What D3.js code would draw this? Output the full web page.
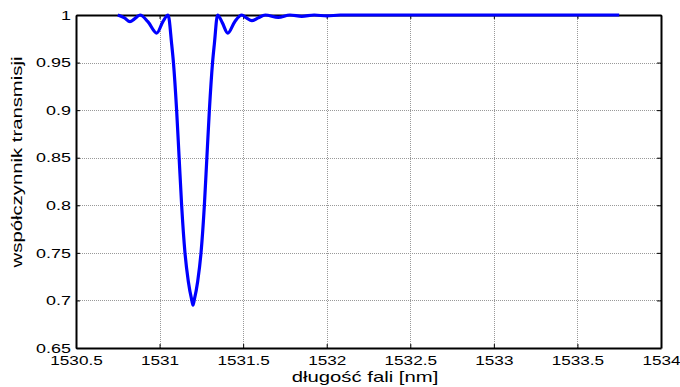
<!DOCTYPE html>
<html>
<head>
<meta charset="utf-8">
<script src="https://cdn.jsdelivr.net/npm/d3@7/dist/d3.min.js"></script>
<style>
  body { margin: 0; background: #fff; }
  text { font-family: "Liberation Sans", Arial, sans-serif; }
</style>
</head>
<body>
<svg class="svg-main" width="680" height="387"></svg>
<script>
const svg = d3.select('.svg-main');

const wavelength = [
  1530.75, 1530.79, 1530.823, 1530.85, 1530.883, 1530.93, 1530.983, 1531.02, 1531.051,
  1531.072, 1531.083, 1531.102, 1531.117, 1531.132, 1531.152, 1531.172, 1531.193, 1531.2,
  1531.207, 1531.228, 1531.248, 1531.268, 1531.283, 1531.298, 1531.317, 1531.328, 1531.347,
  1531.375, 1531.408, 1531.45, 1531.492, 1531.52, 1531.552, 1531.59, 1531.632, 1531.71,
  1531.78, 1531.851, 1531.925, 1532.001, 1532.08, 1533.75
];
const transmission = [
  1.0, 0.997, 0.993, 0.996, 1.0, 0.993, 0.981, 0.993, 1.0,
  0.970, 0.950, 0.900, 0.850, 0.800, 0.750, 0.720, 0.700, 0.695,
  0.700, 0.720, 0.750, 0.800, 0.850, 0.900, 0.950, 0.970, 1.0,
  0.992, 0.981, 0.993, 1.0, 0.997, 0.994, 0.997, 1.0, 0.9975,
  1.0, 0.9986, 1.0, 0.999, 1.0, 1.0
];
const xTicks = [1530.5, 1531, 1531.5, 1532, 1532.5, 1533, 1533.5, 1534];
const yTicks = [0.65, 0.7, 0.75, 0.8, 0.85, 0.9, 0.95, 1];

const mLeft = 76, mRight = 661, mTop = 15, mBottom = 348;

const x = d3.scaleLinear().domain([1530.5, 1534]).range([mLeft, mRight]);
const y = d3.scaleLinear().domain([0.65, 1]).range([mBottom, mTop]);

// siatka
const grid = svg.append("g").attr("class", "grid")
  .attr("stroke", "#999").attr("stroke-width", 1).attr("stroke-dasharray", "1,1");
grid.selectAll("line.gx")
  .data(xTicks.slice(1, -1))
  .enter().append("line")
    .attr("x1", d => Math.round(x(d)) + 0.5).attr("x2", d => Math.round(x(d)) + 0.5)
    .attr("y1", mTop).attr("y2", mBottom);
grid.selectAll("line.gy")
  .data(yTicks.slice(1, -1))
  .enter().append("line")
    .attr("x1", mLeft).attr("x2", mRight)
    .attr("y1", d => Math.round(y(d)) + 0.5).attr("y2", d => Math.round(y(d)) + 0.5);

// osie
const fmt = d => String(d);

const gx = svg.append("g")
  .attr("transform", `translate(0,${mBottom})`)
  .call(d3.axisBottom(x).tickValues(xTicks).tickFormat(fmt).tickSizeInner(-4).tickSizeOuter(0).tickPadding(7));

const gy = svg.append("g")
  .attr("transform", `translate(${mLeft},0)`)
  .call(d3.axisLeft(y).tickValues(yTicks).tickFormat(fmt).tickSizeInner(-4).tickSizeOuter(0));

svg.append("g")
  .attr("transform", `translate(0,${mTop})`)
  .call(d3.axisTop(x).tickValues(xTicks).tickFormat("").tickSizeInner(-4).tickSizeOuter(0));
svg.append("g")
  .attr("transform", `translate(${mRight},0)`)
  .call(d3.axisRight(y).tickValues(yTicks).tickFormat("").tickSizeInner(-4).tickSizeOuter(0));

svg.selectAll(".domain").attr("stroke", "#000").attr("stroke-width", 2);
svg.selectAll(".tick line").attr("stroke", "#000");
svg.selectAll(".tick text").attr("font-size", 13).attr("fill", "#000")
  .attr("font-family", '"Liberation Sans", Arial, sans-serif');
gx.selectAll(".tick text").attr("dy", "0.78em").attr("transform", "scale(1.32,1)");
gy.selectAll(".tick text").attr("transform", "scale(1.38,1)")
  .attr("x", -5 / 1.38);

// krzywa
const line = d3.line()
  .x((d, i) => x(wavelength[i]))
  .y(d => y(d))
  .curve(d3.curveMonotoneX);

svg.append("path")
  .datum(transmission)
  .attr("fill", "none")
  .attr("stroke", "#0000ff")
  .attr("stroke-width", 3.2)
  .attr("stroke-linejoin", "round")
  .attr("d", line);

// opisy osi
svg.append("text")
  .attr("transform", `translate(365,382) scale(1.45,1)`)
  .attr("text-anchor", "middle")
  .attr("font-size", 14)
  .text("długość fali [nm]");

svg.append("text")
  .attr("transform", `translate(22,162) rotate(-90) scale(1.45,1)`)
  .attr("text-anchor", "middle")
  .attr("font-size", 14)
  .text("współczynnik transmisji");
</script>
</body>
</html>
